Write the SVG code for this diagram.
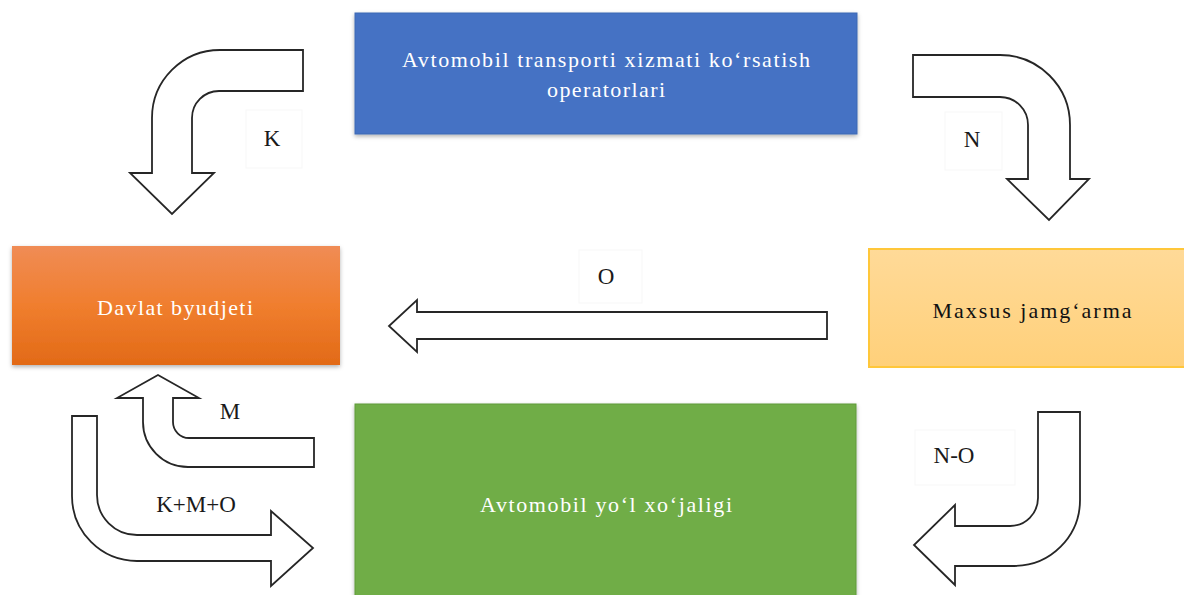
<svg xmlns="http://www.w3.org/2000/svg" width="1184" height="595" viewBox="0 0 1184 595">
  <defs>
    <linearGradient id="gOrange" x1="0" y1="0" x2="0" y2="1">
      <stop offset="0" stop-color="#F08C55"/>
      <stop offset="0.5" stop-color="#F07E2E"/>
      <stop offset="1" stop-color="#E26A17"/>
    </linearGradient>
    <linearGradient id="gYellow" x1="0" y1="0" x2="0" y2="1">
      <stop offset="0" stop-color="#FFDA98"/>
      <stop offset="1" stop-color="#FFD07A"/>
    </linearGradient>
    <filter id="shadow" x="-10%" y="-10%" width="120%" height="125%">
      <feDropShadow dx="0" dy="2" stdDeviation="2" flood-color="#000" flood-opacity="0.3"/>
    </filter>
  </defs>
  <style>
    .box-text { font-family: "Liberation Serif", "Times New Roman", serif; font-size: 22px; text-anchor: middle; }
    .lbl { font-family: "Liberation Serif", "Times New Roman", serif; font-size: 23px; text-anchor: middle; fill: #1a1a1a; }
    .lblbox { fill: #ffffff; stroke: #f7f7f7; stroke-width: 1; }
    .arrow { fill: #ffffff; stroke: #262626; stroke-width: 1.8; stroke-linejoin: miter; }
  </style>
  <rect width="1184" height="595" fill="#ffffff"/>

  <g id="node-operators">
    <rect x="355" y="13" width="502" height="121" fill="#4472C4" stroke="#3F68B3" stroke-width="1" filter="url(#shadow)"/>
    <text class="box-text" x="606" y="67" fill="#ffffff" textLength="408" lengthAdjust="spacing">Avtomobil transporti xizmati ko‘rsatish</text>
    <text class="box-text" x="606" y="97" fill="#ffffff" textLength="118" lengthAdjust="spacing">operatorlari</text>
  </g>

  <g id="node-budget">
    <rect x="12" y="246" width="328" height="119" fill="url(#gOrange)" filter="url(#shadow)"/>
    <text class="box-text" x="175" y="315" fill="#ffffff" textLength="156" lengthAdjust="spacing">Davlat byudjeti</text>
  </g>

  <g id="node-fund">
    <rect x="869" y="249" width="330" height="118" fill="url(#gYellow)" stroke="#FFC73A" stroke-width="2"/>
    <text class="box-text" x="1032" y="318" fill="#111111" textLength="199" lengthAdjust="spacing">Maxsus jamg‘arma</text>
  </g>

  <g id="node-road">
    <rect x="355" y="404" width="501" height="200" fill="#70AD47" stroke="#5E9A3A" stroke-width="1" filter="url(#shadow)"/>
    <text class="box-text" x="606" y="512" fill="#ffffff" textLength="252" lengthAdjust="spacing">Avtomobil yo‘l xo‘jaligi</text>
  </g>

  <g id="connectors">
    <path class="arrow" d="M 303 50 L 220 50 A 68 68 0 0 0 152 118 L 152 173 L 130 173 L 172 214 L 214 173 L 192 173 L 192 118 A 27 27 0 0 1 219 91 L 303 91 Z"/>
    <path class="arrow" d="M 913 55 L 1000 55 A 70 70 0 0 1 1070 125 L 1070 179 L 1089 179 L 1049 220 L 1007 179 L 1028 179 L 1028 125 A 28 28 0 0 0 1000 97 L 913 97 Z"/>
    <path class="arrow" d="M 827 312 L 417 312 L 417 300 L 389 326 L 417 352 L 417 339 L 827 339 Z"/>
    <path class="arrow" d="M 314 438 L 189 438 A 16 16 0 0 1 173 422 L 173 398 L 199 398 L 158 375 L 117 398 L 143 398 L 143 422 A 45 45 0 0 0 188 467 L 314 467 Z"/>
    <path class="arrow" d="M 72 416 L 97 416 L 97 495 A 40 40 0 0 0 137 535 L 271 535 L 271 511 L 313 548 L 271 586 L 271 561 L 137 561 A 65 65 0 0 1 72 496 Z"/>
    <path class="arrow" d="M 1038 412 L 1080 412 L 1080 500 A 66 66 0 0 1 1014 566 L 955 566 L 955 585 L 914 545 L 955 505 L 955 526 L 1010 526 A 28 28 0 0 0 1038 498 Z"/>

    <rect class="lblbox" x="246" y="110" width="56" height="58"/>
    <text class="lbl" x="272" y="146">K</text>
    <rect class="lblbox" x="945" y="112" width="57" height="58"/>
    <text class="lbl" x="972" y="147">N</text>
    <rect class="lblbox" x="579" y="250" width="63" height="53"/>
    <text class="lbl" x="606" y="284">O</text>
    <text class="lbl" x="230" y="419">M</text>
    <text class="lbl" x="196" y="512">K+M+O</text>
    <rect class="lblbox" x="915" y="430" width="100" height="55"/>
    <text class="lbl" x="954" y="463">N-O</text>
  </g>
</svg>
